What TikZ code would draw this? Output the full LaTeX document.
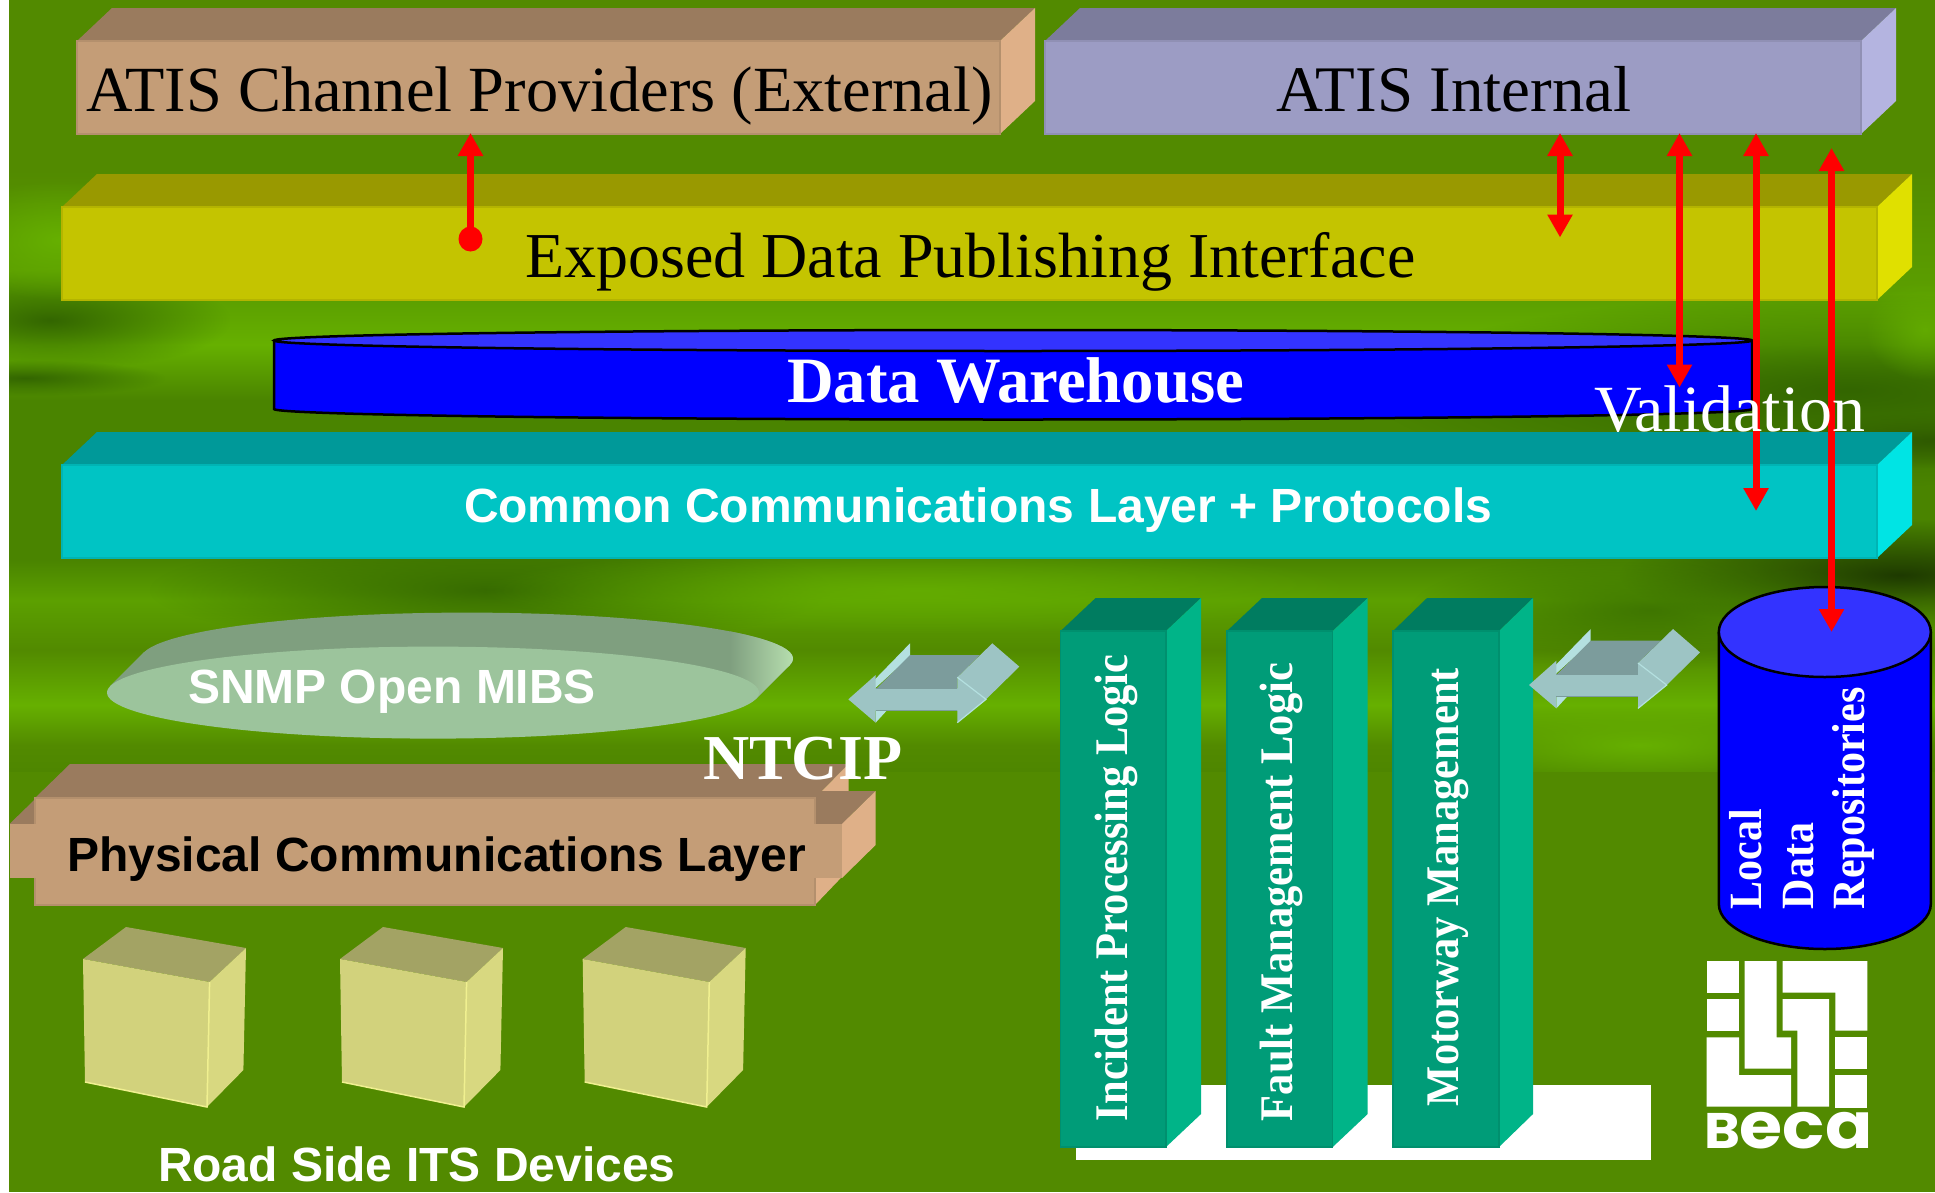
\documentclass[tikz,border=0pt]{standalone}
\usepackage{fontspec}
\setmainfont{Liberation Serif}
\setsansfont{Liberation Sans}
\newfontfamily\becafont{Poppins}
\usetikzlibrary{arrows.meta,fadings,shadings}
\tikzfading[name=softfade, inner color=transparent!0, outer color=transparent!100]
\definecolor{bgbase}{HTML}{528A00}
\definecolor{bgbright}{HTML}{66B000}
\definecolor{bgmid}{HTML}{5CA000}
\definecolor{bgdark}{HTML}{336600}
\definecolor{bgdeep}{HTML}{1E3A00}
\definecolor{bgb}{HTML}{4A8400}
\definecolor{bgc}{HTML}{4E8600}
\definecolor{brF}{HTML}{C49D77}\definecolor{brT}{HTML}{9A7B5E}\definecolor{brS}{HTML}{DFB088}
\definecolor{puF}{HTML}{9C9CC4}\definecolor{puT}{HTML}{7C7C9C}\definecolor{puS}{HTML}{B4B4E0}
\definecolor{yeF}{HTML}{C4C400}\definecolor{yeT}{HTML}{999900}\definecolor{yeS}{HTML}{E0E000}
\definecolor{cyF}{HTML}{00C4C4}\definecolor{cyT}{HTML}{009999}\definecolor{cyS}{HTML}{00E4E4}
\definecolor{teF}{HTML}{009C78}\definecolor{teT}{HTML}{007C60}\definecolor{teS}{HTML}{00B488}
\definecolor{cuF}{HTML}{D2D27C}\definecolor{cuT}{HTML}{A3A364}\definecolor{cuS}{HTML}{D8D880}\definecolor{cuE}{HTML}{F0F090}
\definecolor{snF}{HTML}{9CC49C}\definecolor{snT}{HTML}{7F9F7F}\definecolor{snS}{HTML}{B8E0B0}
\definecolor{arF}{HTML}{9DC4C4}\definecolor{arT}{HTML}{7C9C9C}\definecolor{arE}{HTML}{B4E0E0}
\definecolor{dbF}{HTML}{0000FF}\definecolor{dbT}{HTML}{3333FF}
\newcommand\fs[1]{\fontsize{#1}{#1}\selectfont}
% prefix, x1, x2, ytop, ybottom, dx, dy
\newcommand\layerbox[7]{%
  \fill[#1T] (#2,#4) -- ++(#6,-#7) -- (#3+#6,#4-#7) -- (#3,#4) -- cycle;
  \fill[#1S] (#3,#4) -- ++(#6,-#7) -- (#3+#6,#5-#7) -- (#3,#5) -- cycle;
  \fill[#1F,draw=#1F!92!black,line width=1.5] (#2,#4) rectangle (#3,#5);
}
\newcommand\devicebox[1]{%
  \begin{scope}[shift={(#1,0)}]
    \fill[cuT] (83,959) -- (126,927) -- (246,948) -- (209.6,982) -- cycle;
    \fill[cuS] (209.6,982) -- (246,948) -- (243.4,1070) -- (207,1107) -- cycle;
    \fill[cuF] (83,959) -- (209.6,982) -- (207,1107) -- (85,1082) -- cycle;
    \draw[cuE,line width=1.5] (85,1082) -- (207,1107) -- (209.6,982);
  \end{scope}
}
\newcommand\blockarrow[2]{%
  \begin{scope}[shift={(#1,#2)},x=0.3333pt,y=-0.3333pt]
    \fill[arE] (135,205) -- (135,178) -- (240,70) -- (240,110) -- cycle;
    \fill[arT] (140,205) -- (240,105) -- (450,105) -- (382,172) -- (382,205) -- cycle;
    \fill[arF] (382,172) -- (487,70) -- (568,140) -- (468,238) -- cycle;
    \fill[arE] (137,272) -- (170,272) -- (137,308) -- cycle;
    \fill[arF] (55,238) -- (137,308) -- (137,272) -- (382,272) -- (382,308) -- (468,238) -- (382,172) -- (382,205) -- (137,205) -- (137,165) -- cycle;
    \draw[arE,line width=1.2] (382,172) -- (468,238) -- (382,308);
    \draw[arT,line width=1] (137,205) -- (382,205) (137,272) -- (382,272);
  \end{scope}
}
% colour, opacity, cx, cy, rx, ry
\newcommand\streak[6]{%
  \fill[#1,opacity=#2,path fading=softfade] (#3-2*#5,#4-2*#6) rectangle (#3+2*#5,#4+2*#6);
}
\tikzset{
  redarrow/.style={draw=red,line width=7,-{Triangle[length=23pt,width=24pt]}},
  redboth/.style={draw=red,line width=7,{Triangle[length=23pt,width=24pt]}-{Triangle[length=23pt,width=24pt]}},
  lbl/.style={inner sep=0pt,outer sep=0pt,anchor=base west},
  vlbl/.style={inner sep=0pt,outer sep=0pt,anchor=base west,rotate=90,yscale=1.1,text=white,font=\bfseries\fs{42.5}},
  sanslbl/.style={lbl,font=\sffamily\bfseries\fs{#1}},
  dboutline/.style={draw=black,line width=2.5},
  logopiece/.style={fill=white}
}
\begin{document}
\begin{tikzpicture}[x=1pt,y=-1pt]
\useasboundingbox (0,0) rectangle (1935,1192);
% background
\fill[white] (0,0) rectangle (9,1192);
\fill[bgbase] (9,0) rectangle (1935,1192);
\begin{scope}
\clip (9,0) rectangle (1935,771);
\foreach \ya/\yb/\ca/\cb in {170/300/bgbase/bgmid,300/345/bgmid/bgbright,345/400/bgbright/bgb,400/431/bgb/bgb,431/560/bgb/bgb,560/600/bgb/bgmid,600/650/bgmid/bgbase,650/705/bgbase/bgbright,705/745/bgbright/bgbase,745/771/bgbase/bgc}
  \shade[top color=\ca,bottom color=\cb] (9,\ya) rectangle (1935,\yb);
\streak{bgdark}{1}{50}{320}{90}{25}
\streak{bgdark}{1}{25}{378}{70}{9}
\streak{bgdeep}{.7}{1935}{440}{90}{14}
\streak{bgdark}{1}{1850}{390}{240}{48}
\streak{bgdark}{.9}{490}{590}{170}{28}
\streak{bgbright}{.8}{920}{590}{220}{22}
\streak{bgdeep}{1}{1900}{575}{140}{28}
\streak{bgdark}{.7}{1650}{610}{120}{30}
\streak{bgbright}{1}{1640}{745}{120}{22}
\streak{bgbright}{1}{60}{240}{60}{30}
\streak{bgbright}{.8}{1925}{330}{30}{25}
\end{scope}
% top layers
\layerbox{br}{77}{1000}{41}{134}{35}{33}
\layerbox{pu}{1045}{1861}{41}{134}{35}{33}
\layerbox{ye}{62}{1877}{207}{300}{35}{33}
\layerbox{cy}{62}{1877}{465}{558}{35}{33}
% data warehouse
\fill[dbF] (274,340.5) -- (274,409) arc[start angle=180,end angle=0,x radius=739,y radius=10.5] -- (1752,340.5) -- cycle;
\draw[dboutline] (274,340.5) -- (274,409) arc[start angle=180,end angle=0,x radius=739,y radius=10.5] -- (1752,340.5);
\fill[dbT,dboutline] (1013,340.5) ellipse[x radius=739,y radius=10.5];
% SNMP disc
\fill[snT] (467,658.6) ellipse[x radius=326,y radius=46];
\fill[snT] (110.2,686) -- (144.2,652) -- (789.8,665) -- (755.8,699) -- cycle;
\begin{scope}
\clip (467,658.6) ellipse[x radius=326,y radius=46];
\shade[left color=snT,right color=snS] (730,600) rectangle (795,730);
\end{scope}
\begin{scope}
\clip (110.2,686) -- (144.2,652) -- (789.8,665) -- (755.8,699) -- cycle;
\shade[left color=snT,right color=snS] (730,600) rectangle (795,730);
\end{scope}
\fill[snF] (433,692.6) ellipse[x radius=326,y radius=46];
% physical layer
\fill[brT] (35,798) -- (70,764) -- (848.5,764) -- (815,798) -- cycle;
\fill[brS] (815,798) -- (848.5,764) -- (848.5,870) -- (815,905) -- cycle;
\fill[brT] (9.5,824) -- (43.5,791) -- (875.6,791) -- (842,824) -- cycle;
\fill[brS] (842,824) -- (875.6,791) -- (875.6,845) -- (842,878) -- cycle;
\fill[brF,draw=brF!92!black,line width=1.5] (35,798) rectangle (815,905);
\fill[brF] (9.5,824) rectangle (842,878);
% devices
\devicebox{0}\devicebox{257}\devicebox{499.7}
% processing columns
\fill[white] (1076,1085) rectangle (1651,1160);
\layerbox{te}{1060.6}{1166}{631}{1147}{35}{33}
\layerbox{te}{1227}{1332.7}{631}{1147}{35}{33}
\layerbox{te}{1393}{1499}{631}{1147}{34}{33}
% block arrows
\blockarrow{830}{620}
\blockarrow{1510.7}{605.7}
% repository cylinder
\fill[dbF] (1718.8,632) -- (1718.8,904) arc[start angle=180,end angle=0,x radius=106,y radius=45] -- (1930.8,632) -- cycle;
\draw[dboutline] (1718.8,632) -- (1718.8,904) arc[start angle=180,end angle=0,x radius=106,y radius=45] -- (1930.8,632);
\fill[dbT,dboutline] (1824.8,632) ellipse[x radius=106,y radius=45];
% Beca logo
\begin{scope}[shift={(1690,950)},x=0.3333pt,y=-0.3333pt]
\fill[logopiece] (50,33) rectangle (147,128);
\fill[logopiece] (50,147) rectangle (147,242);
\fill[logopiece] (50,262) -- (147,262) -- (147,375) -- (303,375) -- (303,470) -- (50,470) -- cycle;
\fill[logopiece] (164,33) -- (260,33) -- (260,262) -- (303,262) -- (303,356) -- (164,356) -- cycle;
\fill[logopiece] (278,33) -- (532,33) -- (532,242) -- (436,242) -- (436,128) -- (278,128) -- cycle;
\fill[logopiece] (278,147) -- (417,147) -- (417,470) -- (322,470) -- (322,242) -- (278,242) -- cycle;
\fill[logopiece] (436,262) rectangle (532,356);
\fill[logopiece] (436,375) rectangle (532,473);
\end{scope}
\node[lbl,text=white,font=\becafont\bfseries,xscale=1.09] (beca) at (1704,1148.5) {\fs{50}B\fs{64}eca};
% red connectors
\coordinate (pA) at (470.5,239);
\coordinate (pB) at (470.5,133);
\coordinate (iA) at (1560,133); \coordinate (iB) at (1560,237.5);
\coordinate (iC) at (1679.5,133); \coordinate (iD) at (1679.5,387.5);
\coordinate (iE) at (1756,133); \coordinate (iF) at (1756,511);
\coordinate (iG) at (1831.5,148); \coordinate (iH) at (1831.5,632);
\draw[redarrow] (pA) -- (pB);
\fill[red] (pA) ellipse[x radius=12,y radius=12.5];
\draw[redboth] (iA) -- (iB);
\draw[redboth] (iC) -- (iD);
\draw[redboth] (iE) -- (iF);
\draw[redboth] (iG) -- (iH);
% labels
\node[lbl,font=\fs{64.4}] (atisext) at (86,111) {ATIS Channel Providers (External)};
\node[lbl,font=\fs{65}] (atisint) at (1276,111) {ATIS Internal};
\node[lbl,font=\fs{64}] (expose) at (525,277.5) {Exposed Data Publishing Interface};
\node[lbl,text=white,font=\bfseries\fs{64.7}] (wh) at (787,402) {Data Warehouse};
\node[lbl,text=white,font=\fs{66}] (valid) at (1594,431) {Validation};
\node[sanslbl=48,text=white] (common) at (464,522.5) {Common Communications Layer + Protocols};
\node[sanslbl=48,text=white] (snmp) at (188,703) {SNMP Open MIBS};
\node[lbl,text=white,font=\bfseries\fs{64}] (ntcip) at (703,779) {NTCIP};
\node[sanslbl=48,text=black] (phys) at (67,871.5) {Physical Communications Layer};
\node[sanslbl=48,text=white] (road) at (158,1181) {Road Side ITS Devices};
\node[vlbl] (inc) at (1127,1121) {Incident Processing Logic};
\node[vlbl] (fault) at (1292,1121) {Fault Management Logic};
\node[vlbl] (motor) at (1458,1106) {Motorway Management};
\node[vlbl,font=\bfseries\fs{42}] (loc) at (1761,909) {Local};
\node[vlbl,font=\bfseries\fs{42}] (dat) at (1813,909) {Data};
\node[vlbl,font=\bfseries\fs{42}] (rep) at (1864,909) {Repositories};
\end{tikzpicture}
\end{document}
